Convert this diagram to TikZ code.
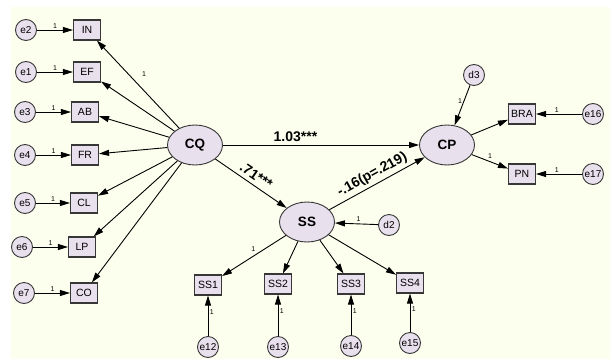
\documentclass[tikz,border=0pt]{standalone}
\usepackage{fontspec}
\setmainfont{Liberation Sans}
\usetikzlibrary{arrows.meta,shapes.geometric}
\definecolor{paper}{RGB}{253,255,238}
\definecolor{lav}{RGB}{233,224,237}
\definecolor{edge}{RGB}{55,55,55}

\begin{document}
\begin{tikzpicture}[x=1pt,y=-1pt,
  obs/.style={rectangle, draw=edge, line width=1.1pt, fill=lav, minimum width=27pt,
    minimum height=20pt, inner sep=0pt, font=\fontsize{10.5}{10.5}\selectfont},
  err/.style={circle, draw=edge, line width=0.9pt, fill=lav, minimum size=21pt,
    inner sep=0pt, font=\fontsize{10}{10}\selectfont},
  lat/.style={ellipse, draw=edge, line width=0.9pt, fill=lav, minimum width=55pt,
    minimum height=40pt, inner sep=0pt, font=\bfseries\fontsize{13.5}{13.5}\selectfont},
  arr/.style={-{Triangle[length=10pt,width=6pt]}, line width=0.9pt},
  one/.style={font=\fontsize{7}{7}\selectfont, inner sep=1.5pt},
  coef/.style={font=\bfseries\fontsize{14}{14}\selectfont, inner sep=3pt}
]
\useasboundingbox (0,0) rectangle (610,359);
\fill[paper] (11,7) rectangle (610,359);

% latent variables
\node[lat] (CQ) at (195,145) {CQ};
\node[lat] (CP) at (447,145) {CP};
\node[lat] (SS) at (307,222) {SS};

% indicators of CQ and their errors
\node[obs] (IN) at (87,30)  {IN};  \node[err] (e2) at (26,30)  {e2};
\node[obs] (EF) at (87,72)  {EF};  \node[err] (e1) at (26,72)  {e1};
\node[obs] (AB) at (85,112) {AB};  \node[err] (e3) at (25,112) {e3};
\node[obs] (FR) at (85,155) {FR};  \node[err] (e4) at (25,155) {e4};
\node[obs] (CL) at (84,203) {CL};  \node[err] (e5) at (25,203) {e5};
\node[obs] (LP) at (82,247) {LP};  \node[err] (e6) at (22,247) {e6};
\node[obs] (CO) at (84,293) {CO};  \node[err] (e7) at (24,293) {e7};

% indicators of CP
\node[obs] (BRA) at (522,114) {BRA}; \node[err] (e16) at (593,114) {e16};
\node[obs] (PN)  at (522,174) {PN};  \node[err] (e17) at (593,174) {e17};

% indicators of SS
\node[obs] (SS1) at (208,285) {SS1}; \node[err] (e12) at (208,347) {e12};
\node[obs] (SS2) at (278,284) {SS2}; \node[err] (e13) at (278,347) {e13};
\node[obs] (SS3) at (351,284) {SS3}; \node[err] (e14) at (351,346) {e14};
\node[obs] (SS4) at (410,283) {SS4}; \node[err] (e15) at (410,343) {e15};

% disturbances
\node[err] (d2) at (389,225) {d2};
\node[err] (d3) at (474,75)  {d3};

% loadings of CQ
\draw[arr] (CQ) -- node[one, pos=0.62, right=12pt] {1} (IN);
\foreach \v in {EF,AB,FR,CL,LP,CO} \draw[arr] (CQ) -- (\v);

% error terms of CQ indicators
\foreach \e/\v in {e2/IN,e1/EF,e3/AB,e4/FR,e5/CL,e6/LP,e7/CO}
  \draw[arr] (\e) -- node[one, pos=0.5, above] {1} (\v);

% structural paths
\draw[arr] (CQ) -- node[coef, pos=0.37, above] {1.03***} (CP);
\draw[arr] (CQ) -- node[coef, pos=0.5, sloped, above, inner sep=4pt] {.71***} (SS);
\draw[arr] (SS) -- node[coef, pos=0.5, sloped, above] {-.16(p=.219)} (CP);

% disturbance paths
\draw[arr] (d2) -- node[one, pos=0.45, above] {1} (SS);
\draw[arr] (d3) -- node[one, pos=0.4, left] {1} (CP);

% loadings of CP
\draw[arr] (CP) -- (BRA);
\draw[arr] (CP) -- node[one, pos=0.4, above right] {1} (PN);
\draw[arr] (e16) -- node[one, pos=0.55, above] {1} (BRA);
\draw[arr] (e17) -- node[one, pos=0.55, above] {1} (PN);

% loadings of SS
\draw[arr] (SS) -- node[one, pos=0.45, above left] {1} (SS1);
\foreach \v in {SS2,SS3,SS4} \draw[arr] (SS) -- (\v);
\foreach \e/\v in {e12/SS1,e13/SS2,e14/SS3,e15/SS4}
  \draw[arr] (\e) -- node[one, pos=0.6, right] {1} (\v);
\end{tikzpicture}
\end{document}
